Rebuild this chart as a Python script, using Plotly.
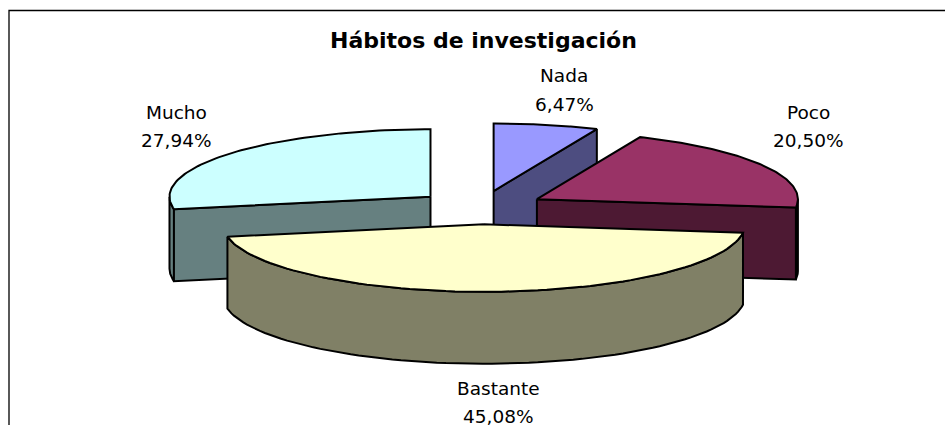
import math
import plotly.graph_objects as go

# --- data ---
categories = ["Nada", "Poco", "Bastante", "Mucho"]
values = [6.47, 20.50, 45.08, 27.94]

# --- styles ---
top_colors = ["#9999FF", "#993366", "#FFFFCC", "#CCFFFF"]
side_colors = ["#4D4D80", "#4D1933", "#808066", "#668080"]
draw_order = ["Nada", "Mucho", "Poco", "Bastante"]
FONT = "DejaVu Sans"

# --- projection of the 3-D pie (pixels of the canvas) ---
CX, CY = 480.5, 207.5
RX, RY = 261.0, 67.5
DEPTH = 72.0
EXPLODE = 65.0
NUDGE_X = {"Bastante": 1.5}
W, H = 945, 425


def pt(cx, cy, t, dz=0.0):
    return cx + RX * math.sin(t), cy - RY * math.cos(t) + dz


def arc(cx, cy, a, b, dz=0.0, n=80):
    return [pt(cx, cy, a + (b - a) * i / n, dz) for i in range(n + 1)]


def add_poly(fig, pts, color):
    xs = [p[0] for p in pts] + [pts[0][0]]
    ys = [p[1] for p in pts] + [pts[0][1]]
    fig.add_trace(go.Scatter(x=xs, y=ys, mode="lines", fill="toself", fillcolor=color,
                             line=dict(color="#000000", width=2), hoverinfo="skip",
                             showlegend=False))


fig = go.Figure()
total = sum(values)
spans = {}
acc = 0.0
for c, v in zip(categories, values):
    start = acc / total * 2 * math.pi
    acc += v
    spans[c] = (start, acc / total * 2 * math.pi)

for name in draw_order:
    i = categories.index(name)
    a, b = spans[name]
    mid = (a + b) / 2
    cx = CX + EXPLODE * math.sin(mid) + NUDGE_X.get(name, 0.0)
    cy = CY - EXPLODE * RY / RX * math.cos(mid)
    # outer wall, only the part turned to the viewer
    wa, wb = max(a, math.pi / 2), min(b, 3 * math.pi / 2)
    if wa < wb:
        add_poly(fig, arc(cx, cy, wa, wb) + arc(cx, cy, wb, wa, DEPTH), side_colors[i])
    # cut faces turned to the viewer
    if math.sin(a) < -1e-6:
        p = pt(cx, cy, a)
        q = pt(cx, cy, a, DEPTH)
        add_poly(fig, [(cx, cy), p, q, (cx, cy + DEPTH)], side_colors[i])
    if math.sin(b) > 1e-6:
        p = pt(cx, cy, b)
        q = pt(cx, cy, b, DEPTH)
        add_poly(fig, [(cx, cy), p, q, (cx, cy + DEPTH)], side_colors[i])
    # top face
    add_poly(fig, [(cx, cy)] + arc(cx, cy, a, b), top_colors[i])

label_pos = {"Nada": (564, 75.5), "Poco": (808.5, 112), "Bastante": (498, 388), "Mucho": (176.5, 112)}
LINE_GAP = 28.5
anns = [dict(x=483.5, y=40.5, xref="x", yref="y", text="<b>Hábitos de investigación</b>",
             showarrow=False, font=dict(family=FONT, size=22, color="#000000"))]
for c, v in zip(categories, values):
    x, y = label_pos[c]
    anns.append(dict(x=x, y=y, xref="x", yref="y", text=c, showarrow=False,
                     font=dict(family=FONT, size=18.5, color="#000000")))
    anns.append(dict(x=x, y=y + LINE_GAP, xref="x", yref="y",
                     text=f"{v:.2f}".replace(".", ",") + "%", showarrow=False,
                     font=dict(family=FONT, size=18.5, color="#000000")))

frame = dict(type="path", path=f"M 9 {H + 5} L 9 10.5 L {W + 5} 10.5", xref="x", yref="y",
             line=dict(color="#000000", width=1.3))

fig.update_layout(width=W, height=H, margin=dict(l=0, r=0, t=0, b=0),
                  paper_bgcolor="#FFFFFF", plot_bgcolor="#FFFFFF",
                  xaxis=dict(range=[0, W], visible=False, fixedrange=True),
                  yaxis=dict(range=[H, 0], visible=False, fixedrange=True),
                  annotations=anns, shapes=[frame], showlegend=False)

fig.write_html("out.html", config=dict(displayModeBar=False),
               post_script="document.body.style.margin='0';document.body.style.overflow='hidden';")
